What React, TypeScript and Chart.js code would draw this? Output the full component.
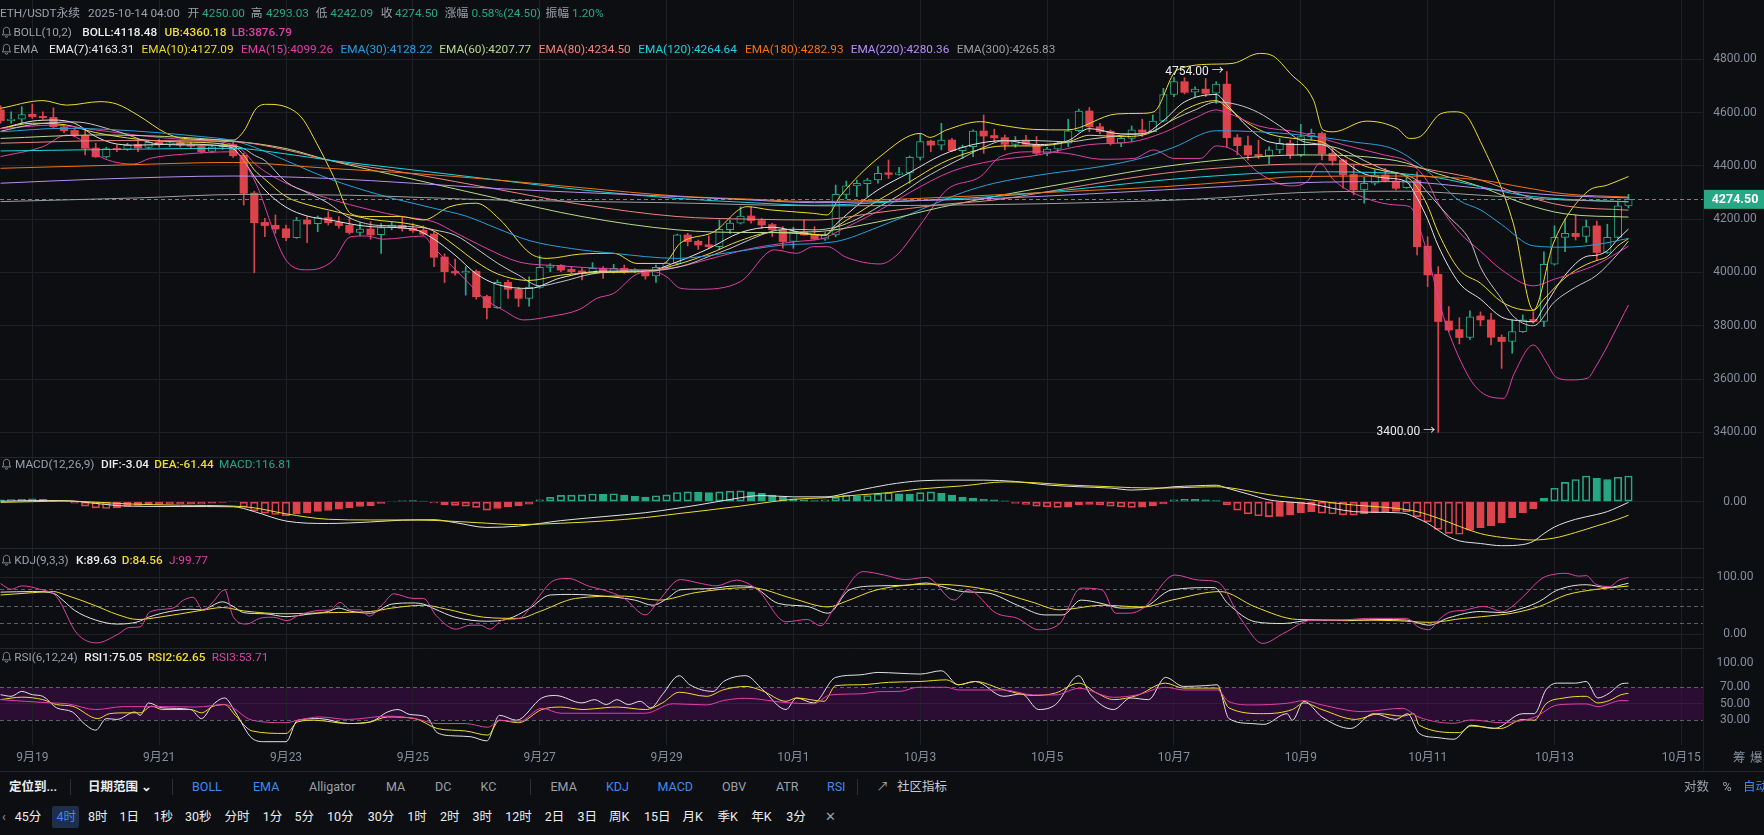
import React, { useEffect, useRef } from "react";
import { Chart, registerables } from "chart.js";

Chart.register(...registerables);

// ---------------- DATA ----------------
const FIRST_INDEX = -3; // candle index of first candle (0 = 2025-09-19 00:00, 4h candles)

const OPEN = [
  4610,4570,4575,4594,4586,4582,4546,4533,4514,4467,
  4434,4466,4462,4480,4469,4489,4480,4487,4479,4473,
  4454,4471,4480,4440,4298,4188,4177,4164,4131,4197,
  4183,4206,4188,4177,4150,4163,4142,4170,4177,4166,
  4158,4144,4058,4004,3998,4004,3910,3868,3963,3937,
  3903,3944,4019,4027,4012,4006,3999,4016,4002,4016,
  4004,4009,3987,4019,4034,4141,4117,4104,4097,4161,
  4185,4212,4195,4180,4160,4117,4153,4141,4125,4141,
  4293,4325,4333,4347,4374,4368,4374,4432,4493,4478,
  4497,4457,4472,4531,4514,4506,4481,4497,4480,4447,
  4463,4485,4532,4606,4547,4530,4485,4503,4535,4528,
  4568,4668,4716,4677,4688,4673,4707,4506,4476,4443,
  4438,4460,4485,4441,4510,4522,4447,4422,4368,4310,
  4335,4366,4343,4318,4345,4099,3993,3818,3786,3756,
  3837,3822,3757,3741,3778,3824,3816,4031,4132,4147,
  4135,4175,4075,4132,4250,
];
const HIGH = [
  4625,4603,4622,4632,4603,4618,4552,4540,4540,4485,
  4470,4478,4485,4493,4495,4500,4492,4495,4488,4480,
  4476,4485,4493,4448,4305,4203,4216,4178,4207,4210,
  4212,4228,4210,4210,4187,4191,4184,4190,4206,4184,
  4175,4153,4070,4050,4022,4010,3915,3972,3972,3944,
  3984,4063,4033,4030,4022,4016,4037,4022,4031,4028,
  4015,4012,4028,4040,4144,4147,4122,4138,4197,4197,
  4247,4247,4203,4185,4172,4170,4197,4172,4150,4328,
  4343,4347,4353,4397,4422,4395,4437,4522,4497,4560,
  4503,4478,4535,4591,4538,4516,4510,4515,4510,4470,
  4492,4575,4613,4619,4560,4535,4510,4550,4575,4591,
  4691,4731,4731,4697,4728,4716,4754,4518,4512,4497,
  4472,4503,4497,4556,4538,4528,4466,4426,4403,4357,
  4385,4391,4372,4357,4378,4134,4022,3872,3830,3856,
  3852,3847,3766,3822,3841,3853,4078,4175,4200,4216,
  4197,4193,4181,4268,4293.03,
];
const LOW = [
  4560,4560,4560,4578,4575,4541,4525,4510,4441,4432,
  4430,4453,4458,4453,4465,4470,4472,4470,4465,4448,
  4450,4462,4432,4253,3999,4134,4147,4119,4128,4112,
  4153,4178,4166,4144,4138,4125,4072,4160,4155,4150,
  4140,4022,3962,3990,3915,3900,3826,3865,3903,3872,
  3874,3941,4003,4003,3995,3972,3995,3978,3998,3997,
  3998,3975,3963,4012,4028,4100,4087,4090,4087,4147,
  4182,4185,4166,4135,4091,4091,4140,4122,4120,4134,
  4276,4285,4285,4335,4353,4365,4335,4422,4453,4460,
  4453,4428,4435,4447,4491,4460,4470,4478,4441,4438,
  4452,4472,4528,4528,4520,4478,4472,4491,4510,4528,
  4566,4660,4670,4660,4660,4635,4472,4441,4422,4428,
  4407,4447,4428,4435,4497,4422,4403,4316,4291,4260,
  4328,4340,4310,4316,4066,3947,3400,3778,3732,3749,
  3800,3728,3640,3697,3775,3809,3797,4028,4078,4122,
  4113,4047,4072,4128,4242.09,
];
const CLOSE = [
  4570,4575,4593,4585,4581,4547,4532,4516,4466,4434,
  4465,4462,4477,4468,4488,4480,4487,4478,4474,4453,
  4472,4479,4438,4297,4187,4176,4163,4131,4197,4182,
  4206,4187,4176,4150,4163,4141,4169,4178,4166,4157,
  4144,4057,4003,3998,4005,3909,3868,3963,3937,3903,
  3944,4019,4026,4009,4003,3998,4016,3999,4016,4003,
  4009,3987,4019,4034,4141,4116,4103,4097,4162,4185,
  4212,4195,4178,4160,4116,4153,4141,4125,4141,4293,
  4325,4335,4347,4372,4368,4374,4432,4491,4478,4497,
  4457,4472,4531,4512,4505,4481,4497,4481,4447,4463,
  4485,4532,4606,4547,4528,4485,4503,4535,4526,4568,
  4668,4716,4676,4688,4672,4707,4506,4476,4441,4437,
  4460,4485,4441,4510,4522,4445,4420,4366,4310,4335,
  4366,4345,4316,4341,4097,3991,3816,3784,3756,3834,
  3822,3757,3741,3778,3822,3816,4031,4132,4147,4135,
  4172,4075,4132,4250,4274.5,
];

// indicator lines: [candle index, value]
const EMA7 = [[-3,4540],[0,4568],[2,4572],[4,4560],[6,4510],[8,4482],[10,4478],[14,4482],[18,4474],[19,4465],[20,4420],[21,4360],[22,4310],[24,4245],[26,4212],[28,4198],[32,4172],[36,4163],[38,4125],[40,4065],[42,3995],[44,3955],[47,3940],[50,3980],[54,4005],[58,4005],[61,4040],[64,4090],[67,4150],[70,4170],[73,4148],[75,4140],[76,4180],[78,4250],[80,4310],[83,4375],[86,4440],[89,4480],[92,4495],[95,4480],[98,4495],[100,4540],[103,4520],[105,4520],[107,4570],[109,4640],[112,4668],[113,4630],[115,4545],[117,4490],[120,4480],[122,4480],[124,4420],[126,4370],[128,4355],[130,4340],[131,4280],[132,4200],[133,4100],[135,3960],[137,3900],[139,3833],[141,3818],[142,3815],[143,3870],[145,3990],[147,4060],[148,4065],[149,4082],[150,4125],[151,4163]];
const EMA10 = [[-3,4540],[0,4560],[3,4555],[6,4525],[10,4500],[14,4490],[19,4475],[20,4440],[21,4385],[22,4350],[24,4285],[26,4255],[28,4235],[32,4200],[36,4180],[38,4155],[40,4100],[42,4040],[44,3995],[47,3970],[50,3990],[54,4000],[58,4003],[61,4030],[64,4070],[67,4120],[70,4150],[73,4145],[75,4140],[76,4170],[78,4220],[80,4270],[83,4340],[86,4410],[89,4455],[92,4475],[95,4475],[98,4490],[100,4515],[103,4510],[105,4515],[107,4550],[109,4610],[112,4645],[113,4620],[115,4560],[117,4520],[120,4500],[122,4490],[124,4440],[126,4400],[128,4380],[130,4360],[131,4320],[132,4250],[133,4150],[135,4010],[137,3960],[139,3890],[141,3860],[142,3858],[143,3900],[145,3980],[147,4030],[148,4045],[149,4060],[150,4100],[151,4127]];
const EMA15 = [[-3,4540],[2,4553],[6,4535],[10,4515],[14,4500],[19,4480],[20,4455],[21,4410],[24,4335],[28,4278],[32,4235],[35,4210],[38,4190],[40,4150],[43,4090],[46,4040],[50,4025],[54,4015],[58,4010],[61,4020],[64,4050],[68,4090],[72,4115],[75,4130],[76,4150],[80,4230],[83,4300],[87,4380],[91,4420],[95,4440],[100,4480],[104,4490],[107,4525],[110,4580],[112,4610],[113,4600],[116,4550],[120,4525],[124,4480],[128,4440],[130,4420],[131,4390],[132,4340],[133,4260],[135,4150],[137,4080],[139,4010],[142,3950],[144,3975],[146,4000],[148,4030],[150,4075],[151,4099]];
const EMA30 = [[-3,4528],[3,4541],[8,4535],[16,4510],[19,4495],[21,4470],[24,4420],[28,4353],[33,4290],[38,4241],[41,4212],[44,4165],[47,4120],[51,4090],[55,4072],[61,4053],[66,4075],[71,4103],[76,4116],[80,4170],[84,4235],[88,4300],[91,4335],[96,4370],[101,4397],[105,4430],[108,4470],[112,4532],[116,4528],[120,4516],[125,4490],[129,4460],[132,4380],[135,4270],[137,4235],[139,4180],[142,4100],[145,4095],[148,4105],[151,4128]];
const EMA60 = [[-3,4503],[6,4516],[19,4493],[24,4465],[28,4422],[36,4350],[44,4278],[52,4210],[61,4160],[68,4150],[74,4153],[80,4190],[86,4245],[91,4285],[100,4350],[107,4397],[114,4428],[120,4441],[129,4420],[133,4370],[137,4322],[141,4260],[145,4220],[151,4208]];
const EMA80 = [[-3,4485],[8,4495],[19,4491],[24,4460],[28,4422],[36,4370],[44,4312],[52,4255],[61,4210],[68,4200],[74,4197],[80,4225],[86,4255],[91,4272],[100,4330],[107,4372],[114,4397],[120,4407],[129,4403],[133,4380],[137,4347],[141,4290],[145,4250],[151,4234]];
const EMA120 = [[-3,4456],[8,4462],[19,4466],[24,4445],[28,4422],[36,4385],[44,4347],[52,4310],[61,4278],[68,4262],[74,4252],[80,4262],[86,4275],[91,4285],[100,4318],[107,4347],[114,4368],[120,4378],[129,4372],[133,4355],[137,4322],[141,4290],[145,4275],[151,4265]];
const EMA180 = [[-3,4391],[8,4403],[19,4413],[28,4391],[36,4372],[44,4347],[52,4318],[61,4287],[68,4275],[74,4266],[82,4275],[91,4291],[100,4308],[107,4322],[114,4342],[120,4360],[129,4362],[137,4347],[141,4320],[145,4295],[151,4283]];
const EMA220 = [[-3,4335],[6,4350],[19,4362],[28,4353],[36,4335],[44,4315],[52,4300],[61,4285],[68,4272],[74,4262],[82,4268],[91,4278],[100,4295],[107,4310],[114,4325],[120,4337],[129,4341],[137,4316],[141,4300],[145,4288],[151,4280]];
const EMA300 = [[-3,4266],[10,4280],[20,4293],[30,4290],[44,4272],[60,4262],[75,4250],[91,4255],[100,4262],[110,4275],[120,4300],[130,4305],[137,4290],[145,4272],[151,4266]];

const BOLL_MID = [[-3,4530],[0,4555],[4,4565],[8,4530],[12,4482],[16,4478],[19,4475],[20,4465],[21,4440],[22,4420],[24,4340],[26,4300],[28,4260],[30,4205],[32,4180],[34,4175],[37,4168],[38,4160],[40,4140],[42,4090],[44,4035],[46,3990],[48,3950],[50,3965],[53,3995],[56,4005],[58,4005],[60,4012],[62,4030],[64,4060],[66,4090],[68,4125],[70,4155],[72,4162],[74,4160],[76,4170],[78,4200],[80,4245],[82,4290],[84,4345],[86,4390],[88,4430],[90,4470],[92,4495],[95,4495],[98,4490],[100,4500],[103,4515],[106,4530],[108,4575],[110,4610],[112,4640],[114,4630],[116,4600],[118,4550],[120,4495],[122,4480],[124,4460],[126,4420],[128,4385],[130,4365],[131,4345],[132,4300],[134,4210],[136,4120],[137,4020],[139,3900],[140,3840],[142,3800],[144,3890],[146,3945],[148,3990],[150,4070],[151,4118]];
const BOLL_UB = [[-3,4616],[1,4645],[3.25,4628],[6.4,4641],[8,4632],[10,4590],[12.7,4522],[14.3,4503],[19,4497],[20,4530],[21.2,4616],[22.2,4631],[24.1,4620],[25.5,4580],[26.9,4485],[28.5,4360],[30.1,4222],[31.6,4210],[34.8,4210],[37,4197],[39.5,4247],[42,4260],[44.2,4200],[47.1,4072],[48.7,4053],[51.8,4069],[55,4072],[57.2,4034],[59.7,4034],[61.3,4110],[64.5,4153],[67.6,4247],[69.8,4235],[73.9,4222],[75.2,4216],[76.4,4285],[80.2,4435],[84,4522],[84.9,4507],[86.5,4535],[89.7,4566],[91.6,4553],[94.7,4537],[97.9,4535],[102.6,4595],[104.8,4597],[106.1,4603],[108.3,4760],[112,4782],[113.6,4785],[116.1,4822],[117.4,4812],[119,4747],[121.2,4647],[122.1,4535],[123.1,4528],[126.2,4568],[129.1,4541],[130.3,4503],[131.3,4510],[133.2,4595],[134.5,4603],[135.4,4597],[137,4491],[140.1,4185],[142,3859],[143.9,4110],[147.1,4303],[149,4328],[151,4360]];
const BOLL_LB = [[-3,4435],[1,4472],[3.25,4516],[4.2,4507],[6.4,4435],[9.6,4407],[11.1,4428],[14.3,4444],[19,4453],[21,4347],[24.1,4041],[26,4010],[27.2,4016],[28.5,4047],[30.1,4134],[31.6,4137],[33.2,4125],[37,4137],[37.9,4097],[41,3972],[42.7,3903],[44.5,3860],[46.5,3822],[49,3835],[51.8,3862],[53.4,3903],[55,3922],[57.2,3994],[58.8,4003],[60,3984],[61.3,3941],[62.9,3937],[67,3966],[70.2,4085],[72.3,4072],[73.9,4097],[75.2,4097],[77,4057],[80.2,4032],[81.8,4066],[84,4178],[86.5,4310],[89.7,4360],[91.6,4435],[94.7,4453],[97.9,4447],[101.1,4425],[104.2,4428],[106.1,4460],[108,4428],[110.5,4428],[112,4475],[113.6,4460],[116.1,4372],[119,4325],[120.6,4341],[121.8,4410],[123.1,4347],[126.2,4278],[129.1,4253],[130.3,4247],[131.6,4122],[133.5,3834],[135.7,3622],[137,3553],[139.2,3528],[140.2,3622],[142,3728],[143.3,3659],[144.1,3609],[145.5,3597],[147.1,3603],[148,3653],[151,3878]];

// MACD histogram, one per candle from FIRST_INDEX
const MACD_HIST = [
  8,10,12,13,11,6,2,-7,-20,-28,
  -31,-28,-22,-17,-14,-12,-11,-10,-9,-10,
  -7,-3,2,-25,-42,-52,-58,-63,-56,-50,
  -44,-40,-34,-28,-22,-18,-8,3,5,5,
  3,-6,-14,-17,-20,-26,-38,-31,-24,-19,
  -11,8,20,29,30,31,35,34,36,30,
  24,21,27,31,42,45,44,41,45,48,
  49,45,38,30,20,13,8,5,8,20,
  30,27,28,35,41,36,35,41,45,38,
  30,21,16,12,8,4,-8,-12,-20,-23,
  -26,-25,-15,-12,-15,-20,-23,-26,-25,-19,
  -10,8,11,11,8,5,-15,-38,-55,-64,
  -68,-67,-60,-50,-45,-52,-56,-60,-61,-55,
  -50,-45,-44,-45,-68,-91,-126,-144,-148,-129,
  -118,-109,-95,-73,-50,-33,15,61,88,101,
  117,106,101,111,117,
];
const MACD_DIF = [[-3,2],[0,5],[3,5],[6,-8],[9,-20],[14,-22],[19,-23],[21,-45],[24,-88],[28,-99],[32,-92],[35,-84],[38,-82],[40,-95],[43,-117],[46,-111],[50,-86],[54,-68],[58,-50],[61,-30],[63,-15],[66,10],[69,28],[72,22],[75,22],[78,50],[81,78],[84,95],[87,98],[90,98],[93,92],[96,76],[99,68],[102,62],[104,53],[106,58],[108,68],[110,72],[112,75],[113,62],[115,35],[117,8],[119,-2],[121,-10],[123,-30],[125,-45],[127,-48],[129,-50],[130,-55],[131,-75],[132,-98],[133,-130],[134,-160],[135,-178],[137,-190],[139,-200],[141,-195],[142,-180],[143,-145],[144,-115],[146,-80],[148,-58],[149,-45],[150,-25],[151,-3.04]];
const MACD_DEA = [[-3,-3],[0,0],[3,3],[6,-2],[9,-10],[14,-16],[19,-20],[21,-28],[24,-55],[28,-80],[32,-83],[35,-83],[38,-85],[42,-95],[46,-104],[50,-98],[54,-88],[58,-72],[61,-55],[64,-38],[67,-20],[70,0],[72,11],[75,18],[78,30],[81,41],[84,58],[88,72],[92,90],[95,86],[98,76],[101,70],[104,64],[107,62],[110,66],[112,68],[114,58],[116,40],[118,25],[121,8],[123,-5],[125,-15],[127,-22],[129,-30],[131,-45],[133,-75],[135,-112],[137,-145],[139,-162],[141,-172],[142,-174],[144,-165],[146,-140],[148,-110],[150,-80],[151,-61.44]];

const KDJ_K = [[-3,74],[0,75],[2,72],[3,58],[4,42],[6,25],[8,18],[10,22],[11,30],[13,40],[15,44],[16,43],[18,57],[19,49],[20,38],[22,36],[24,31],[26,35],[28,40],[29,46],[30,41],[32,37],[34,53],[36,55],[37,53],[38,45],[40,30],[43,23],[45,27],[47,45],[49,69],[51,70],[54,67],[57,60],[58.7,51],[60,62],[61.3,78],[64,80],[66.6,85],[68,84],[70.6,54],[73.3,49],[75.3,37],[77.3,78],[80,85],[82.6,86],[84.6,90],[86,84],[88,75],[90.5,72],[93.2,51],[95.8,34],[97.5,34],[99.2,60],[101.2,54],[103,46],[105,47],[107.8,78],[111.8,82],[113.1,54],[115.7,22],[118.4,19],[121,25],[124.4,24],[127.5,26],[130,25],[132.1,16],[134,29],[137,40],[139,38],[141,46],[142.6,58],[144.2,77],[147,87],[149,82],[151,89.63]];
const KDJ_D = [[-3,69],[0,73],[2,75],[3,70],[6,50],[8,35],[10,26],[12,30],[16,42],[18,47],[20,41],[24,36],[28,38],[32,40],[34,46],[37,51],[39,45],[42.7,30],[46,28],[48,40],[51.4,63],[56,67],[59.3,60],[62.7,73],[67.9,82],[71.9,63],[75.3,48],[77,58],[79.9,78],[85.2,88],[90.5,78],[94.5,57],[97.2,43],[101.2,51],[105.1,48],[107.8,60],[112.4,75],[115.7,48],[119.7,26],[124.4,25],[129,24],[132.2,21],[135.4,28],[138.8,34],[140,37],[142.6,49],[145.1,69],[148,79],[151,84.56]];
const KDJ_J = [[-3,89],[-2,79],[-1,85],[0.7,79],[2.3,66],[4.2,2],[6.1,-15],[8,-1],[9.2,12],[10.2,13],[11.1,39],[13.3,46],[14.3,60],[15.2,65],[16.2,42],[17.1,57],[18.2,78],[19,31],[20.3,18],[21.5,28],[22.8,30],[24.1,24],[25.3,34],[27.2,42],[28.2,43],[29.1,56],[30.1,43],[31,43],[31.9,32],[33.2,54],[34.2,71],[36,63],[37,63],[38.2,33],[40.1,9],[41.4,16],[42.4,16],[43.3,9],[44.5,25],[46.1,28],[47.4,54],[49.4,95],[50.7,98],[52.7,84],[54,78],[56,63],[58,34],[59.3,60],[61.3,96],[63.3,89],[64.7,85],[66.6,95],[68.6,78],[71.3,22],[73.3,26],[74.6,15],[75.9,48],[78.6,110],[80.6,104],[82.6,96],[84.6,100],[87.2,60],[88.5,78],[91.2,37],[93.2,28],[95.2,8],[97.2,19],[99.2,81],[101.2,78],[102.5,37],[103.8,37],[105.1,46],[108.1,104],[110.4,95],[112.1,92],[114.4,25],[116.4,-16],[118.4,2],[121.1,25],[123.7,25],[126.4,28],[128.8,28],[130,28],[131.1,13],[132.1,8],[133.2,28],[134.1,39],[135.4,42],[137.3,49],[139.1,40],[140,49],[141.2,69],[142.8,98],[144.2,106],[145.1,107],[146.3,102],[147,103],[147.9,88],[149.2,84],[150.1,95],[151,99.77]];

const RSI1 = [[-3,61],[-2,59],[-1,65],[0,61],[1,59],[2.3,45],[3.8,40],[4.9,26],[6,18],[7,32],[8,31],[9.7,40],[10.2,36],[11,51],[12.3,45],[15,43],[16,32],[17.1,49],[18.2,57],[19.2,40],[20.8,8],[22,4],[24,4],[25.1,30],[27.2,32],[29.9,26],[32,28],[33.6,40],[34.6,43],[35.7,37],[37.3,34],[38.3,15],[40,11],[41.5,10],[43,5],[44.2,36],[45.8,30],[48.2,57],[49.5,60],[52,51],[53.2,55],[54.3,49],[55.3,55],[56.4,49],[57.5,53],[58.5,45],[59.6,61],[61.2,84],[62.2,73],[64.4,65],[65.4,77],[67.5,84],[69.1,67],[71.3,43],[72.3,57],[73.9,51],[76,82],[78.3,85],[80,88],[82,87],[84,86],[86,90],[87.6,73],[89.2,77],[91.9,59],[93.6,62],[95.2,43],[96.8,49],[99,84],[100.1,61],[102.3,43],[103.9,57],[105.6,55],[107.2,82],[108.9,71],[111,72],[112.1,73],[113.2,32],[115.4,26],[116.5,25],[118.7,38],[119.2,30],[120.3,53],[122,34],[124.7,20],[126.9,38],[129,31],[130.1,38],[131.2,14],[132.9,9],[134.5,7],[136.1,24],[138.3,20],[141,38],[142.1,38],[143.2,67],[144.3,75],[146,75],[147,77],[148.1,57],[149.2,63],[150.3,74],[151,75.05]];
const RSI2 = [[-3,55],[-1,58],[1,55],[2.3,49],[3.8,47],[6.2,32],[7.3,38],[9,39],[10.2,39],[11.3,47],[12.3,43],[15,43],[16,39],[17.1,47],[18.2,49],[19.2,36],[20.8,17],[24,14],[25.1,28],[26.7,30],[29.9,26],[32,28],[33.6,34],[36.2,32],[38.3,20],[41,17],[43.1,12],[44.2,30],[46,27],[48.2,43],[50,46],[52.1,43],[53.2,44],[55.3,46],[58,43],[59.6,51],[61.2,64],[63.8,59],[65.4,67],[67.5,71],[69,66],[71.3,53],[72.3,57],[74.9,53],[76,72],[78.3,73],[81,76],[84,77],[86.5,79],[87.6,73],[89.2,77],[91.9,67],[94.7,60],[96.8,63],[99,75],[100.7,63],[102.3,55],[104.5,60],[107.2,75],[108.9,69],[112.1,69],[113.2,45],[116.5,38],[119.2,43],[120.3,51],[122,43],[125.2,31],[127.4,38],[129.6,35],[130.7,38],[131.2,24],[135,15],[136.1,23],[138.9,20],[141,31],[142.1,30],[143.2,50],[144.9,57],[147,59],[148.1,51],[149.2,54],[150.3,61],[151,62.65]];
const RSI3 = [[-3,55],[1.7,51],[3.3,50],[6,43],[8.6,46.5],[12.9,46.5],[15.5,46],[18.2,49],[20.8,30],[24,27],[25.1,30],[27.2,34],[29.9,31],[33.6,35],[36.2,32],[38.3,26],[41,26],[43.1,21.5],[44.2,30],[46,28],[48.2,44.5],[50,38.5],[55.3,38.5],[58,38.5],[60.6,50],[63.8,48.6],[65.4,54],[67.5,56.6],[71.3,51.4],[73.9,50],[75.5,60.7],[78.3,62],[80.2,64.7],[82.1,65],[83.8,70],[86.5,70],[87.6,66.7],[91.9,66.7],[94.7,60.7],[96.8,60.7],[99,68.8],[102.3,57.8],[104.5,60.7],[107.2,70],[108.9,66.7],[112.1,66.7],[113.2,52.6],[115.4,48.6],[118.7,50.6],[120.3,53.8],[122,48.6],[125.8,40.5],[129.6,44.5],[131.2,33.6],[134.5,26.3],[136.1,30.4],[138.9,27.1],[142.1,33.6],[144.3,48.6],[147,49.8],[148.1,46.5],[150.3,53.8],[151,53.71]];

const DATE_TICKS = [0, 12, 24, 36, 48, 60, 72, 84, 96, 108, 120, 132, 144, 156];
const DATE_LABELS = ["9月19","9月21","9月23","9月25","9月27","9月29","10月1","10月3","10月5","10月7","10月9","10月11","10月13","10月15"];
const PRICE_TICKS = [3400, 3600, 3800, 4000, 4200, 4400, 4600, 4800];
const LAST_PRICE = 4274.5;
const HIGH_MARK = [113, 4754];
const LOW_MARK = [133, 3400];

// ---------------- STYLE ----------------
const BG = "#0d0e11";
const GRID = "#1e2025";
const AXIS_TEXT = "#848e9c";
const GREEN = "#27a884";
const RED = "#dd434b";
const WHITE = "#e2e2e2";
const YELLOW = "#eedc2e";
const MAGENTA = "#de40a8";
const C_EMA = {
  e7: "#e4e4e4", e10: YELLOW, e15: MAGENTA, e30: "#2b9fd9", e60: "#b8d98d",
  e80: "#e9877d", e120: "#1ed3dd", e180: "#f07515", e220: "#b690f0", e300: "#9e9e9e",
};
const BOLL_MID_C = "#c4c4c4";
const BAND = "#2b0c32";
const DASH = "#5c6068";
const FONT_FAMILY = 'Roboto, "Noto Sans CJK SC", sans-serif';
const CANVAS_FONT = '12px Roboto, "Noto Sans CJK SC", sans-serif';
const X_MIN = -3.056;
const X_MAX = 158.05;
const AXIS_W = 61;
const LABEL_X = 1735;

const pts = (arr: number[][]) => arr.map(([x, y]) => ({ x, y }));

function line(data: number[][], color: string, width = 1) {
  return {
    type: "line",
    data: pts(data),
    borderColor: color,
    borderWidth: width,
    pointRadius: 0,
    cubicInterpolationMode: "monotone",
    order: 0,
  };
}

function scales(yMin: number, yMax: number, yTicks: number[], yGridColor = GRID) {
  return {
    x: {
      type: "linear",
      min: X_MIN,
      max: X_MAX,
      offset: false,
      grid: { color: GRID, drawTicks: false, offset: false },
      border: { display: false },
      ticks: { display: false },
      afterBuildTicks: (s: any) => { s.ticks = DATE_TICKS.map((v) => ({ value: v })); },
      afterFit: (s: any) => { s.height = 0; s.paddingLeft = 0; s.paddingRight = 0; },
    },
    y: {
      type: "linear",
      position: "right",
      min: yMin,
      max: yMax,
      grid: { color: yGridColor, drawTicks: false },
      border: { display: false },
      ticks: { display: false },
      afterBuildTicks: (s: any) => { s.ticks = yTicks.map((v) => ({ value: v })); },
      afterFit: (s: any) => { s.width = AXIS_W; s.paddingTop = 0; s.paddingBottom = 0; },
    },
  };
}

type Decor = {
  labels?: [number, string][];
  dashed?: number[];
  band?: [number, number];
  topLine?: boolean;
  dates?: boolean;
  price?: boolean;
};

function decor(o: Decor) {
  return {
    id: "decor",
    beforeDraw(chart: any) {
      if (!o.band) return;
      const { ctx, chartArea: a } = chart;
      const y = chart.scales.y;
      const top = y.getPixelForValue(o.band[1]);
      const bot = y.getPixelForValue(o.band[0]);
      ctx.save();
      ctx.fillStyle = BAND;
      ctx.fillRect(a.left, top, a.right - a.left, bot - top);
      ctx.restore();
    },
    beforeDatasetsDraw(chart: any) {
      const { ctx, chartArea: a } = chart;
      const y = chart.scales.y;
      ctx.save();
      ctx.lineWidth = 1;
      if (o.topLine) {
        ctx.strokeStyle = "#24262c";
        ctx.beginPath();
        ctx.moveTo(0, a.top + 0.5);
        ctx.lineTo(a.right, a.top + 0.5);
        ctx.stroke();
      }
      ctx.setLineDash([4, 3]);
      ctx.strokeStyle = DASH;
      (o.dashed || []).forEach((v) => {
        const py = Math.round(y.getPixelForValue(v)) + 0.5;
        ctx.beginPath();
        ctx.moveTo(a.left, py);
        ctx.lineTo(a.right, py);
        ctx.stroke();
      });
      if (o.price) {
        const py = Math.round(y.getPixelForValue(LAST_PRICE)) + 0.5;
        ctx.strokeStyle = GREEN;
        ctx.beginPath();
        ctx.moveTo(a.left, py);
        ctx.lineTo(a.right, py);
        ctx.stroke();
      }
      ctx.restore();
    },
    afterDraw(chart: any) {
      const { ctx, chartArea: a } = chart;
      const y = chart.scales.y;
      const x = chart.scales.x;
      ctx.save();
      ctx.font = CANVAS_FONT;
      ctx.fillStyle = AXIS_TEXT;
      ctx.textAlign = "center";
      ctx.textBaseline = "middle";
      (o.labels || []).forEach(([v, t]) => {
        ctx.fillText(t, LABEL_X, y.getPixelForValue(v));
      });
      if (o.dates) {
        DATE_TICKS.forEach((v, k) => {
          ctx.fillText(DATE_LABELS[k], x.getPixelForValue(v), a.bottom + 13);
        });
      }
      if (o.price) {
        const py = y.getPixelForValue(LAST_PRICE);
        ctx.fillStyle = GREEN;
        ctx.fillRect(a.right, py - 9.5, AXIS_W, 19);
        ctx.fillStyle = "#ffffff";
        ctx.font = 'bold 12.5px Roboto, sans-serif';
        ctx.fillText(LAST_PRICE.toFixed(2), LABEL_X, py + 0.5);
        ctx.font = CANVAS_FONT;
        ctx.fillStyle = "#eaecef";
        ctx.textAlign = "right";
        [HIGH_MARK, LOW_MARK].forEach(([i, v]) => {
          const px = x.getPixelForValue(i);
          const vy = y.getPixelForValue(v);
          ctx.fillText(v.toFixed(2) + " \u2192", px - 3, vy);
        });
      }
      ctx.restore();
    },
  };
}

const baseOptions = (sc: any, bottomPad = 0) => ({
  animation: false,
  responsive: false,
  events: [],
  layout: { padding: { left: 0, right: 0, top: 0, bottom: bottomPad }, autoPadding: false },
  plugins: { legend: { display: false }, tooltip: { enabled: false } },
  scales: sc,
});

function priceConfig() {
  const idx = OPEN.map((_, k) => FIRST_INDEX + k);
  const up = (k: number) => CLOSE[k] >= OPEN[k];
  return {
    type: "bar",
    data: {
      datasets: [
        {
          type: "bar",
          data: idx.map((i, k) => ({ x: i, y: [LOW[k], HIGH[k]] })),
          backgroundColor: idx.map((_, k) => (up(k) ? GREEN : RED)),
          borderWidth: 0,
          barThickness: 1,
          grouped: false,
          order: 3,
        },
        {
          type: "bar",
          data: idx.map((i, k) => ({ x: i, y: [OPEN[k], CLOSE[k]] })),
          backgroundColor: idx.map((_, k) => (up(k) ? BG : RED)),
          borderColor: idx.map((_, k) => (up(k) ? GREEN : RED)),
          borderWidth: idx.map((_, k) => (up(k) ? 1 : 0)),
          borderSkipped: false,
          barThickness: 7.5,
          minBarLength: 1,
          grouped: false,
          order: 2,
        },
        line(EMA300, C_EMA.e300),
        line(EMA220, C_EMA.e220),
        line(EMA180, C_EMA.e180),
        line(EMA120, C_EMA.e120),
        line(EMA80, C_EMA.e80),
        line(EMA60, C_EMA.e60),
        line(EMA30, C_EMA.e30),
        line(BOLL_LB, MAGENTA),
        line(BOLL_UB, YELLOW),
        line(BOLL_MID, BOLL_MID_C),
        line(EMA15, C_EMA.e15),
        line(EMA10, C_EMA.e10),
        line(EMA7, C_EMA.e7),
      ],
    },
    options: baseOptions(scales(3307.7, 5022.5, PRICE_TICKS)),
    plugins: [decor({ labels: PRICE_TICKS.map((v) => [v, v.toFixed(2)] as [number, string]), price: true })],
  };
}

function macdConfig() {
  const idx = MACD_HIST.map((_, k) => FIRST_INDEX + k);
  const hollow = MACD_HIST.map((v, k) => {
    if (k === 0) return false;
    const p = MACD_HIST[k - 1];
    return Math.sign(v) !== Math.sign(p) || Math.abs(v) > Math.abs(p);
  });
  const col = MACD_HIST.map((v) => (v >= 0 ? GREEN : RED));
  return {
    type: "bar",
    data: {
      datasets: [
        {
          type: "bar",
          data: idx.map((i, k) => ({ x: i, y: MACD_HIST[k] })),
          backgroundColor: col.map((c, k) => (hollow[k] ? "rgba(0,0,0,0)" : c)),
          borderColor: col,
          borderWidth: 1,
          borderSkipped: false,
          barThickness: 7.5,
          grouped: false,
          order: 2,
        },
        line(MACD_DEA, YELLOW),
        line(MACD_DIF, WHITE),
      ],
    },
    options: baseOptions(scales(-210.5, 203.2, [0])),
    plugins: [decor({ labels: [[0, "0.00"]], topLine: true })],
  };
}

function kdjConfig() {
  return {
    type: "line",
    data: { datasets: [line(KDJ_J, MAGENTA), line(KDJ_D, YELLOW), line(KDJ_K, WHITE)] },
    options: baseOptions(scales(-24.0, 151.4, [0, 100])),
    plugins: [decor({ labels: [[100, "100.00"], [0, "0.00"]], dashed: [20, 50, 80], topLine: true })],
  };
}

function rsiConfig() {
  return {
    type: "line",
    data: { datasets: [line(RSI3, MAGENTA), line(RSI2, YELLOW), line(RSI1, WHITE)] },
    options: baseOptions(scales(0, 117.6, [50], "#3a1a42"), 24),
    plugins: [
      decor({
        labels: [[100, "100.00"], [70, "70.00"], [50, "50.00"], [30, "30.00"]],
        dashed: [30, 70],
        band: [30, 70],
        topLine: true,
        dates: true,
      }),
    ],
  };
}

// ---------------- TEXT OVERLAYS ----------------
const Bell = () => (
  <svg width="11" height="12" viewBox="0 0 11 12" style={{ position: "absolute", left: 1, top: 1 }}>
    <path d="M5.5 1.3c-1.8 0-3.1 1.4-3.1 3.2v2.7L1.2 8.9h8.6L8.6 7.2V4.5c0-1.8-1.3-3.2-3.1-3.2z M4.3 10.1a1.2 1.2 0 0 0 2.4 0" fill="none" stroke="#848e9c" strokeWidth="1" />
  </svg>
);

function Txt(props: { x: number; y: number; c: string; w?: number; s?: number; children: any }) {
  return (
    <div
      style={{
        position: "absolute",
        left: props.x,
        top: props.y - 7,
        lineHeight: "14px",
        fontSize: props.s || 12.5,
        fontFamily: FONT_FAMILY,
        color: props.c,
        fontWeight: props.w || 400,
        whiteSpace: "nowrap",
      }}
    >
      {props.children}
    </div>
  );
}

function Row(props: { y: number; s?: number; items: [number, string, string, number?][] }) {
  return (
    <>
      {props.items.map(([x, t, c, w], k) => (
        <Txt key={k} x={x} y={props.y} c={c} w={w} s={props.s}>{t}</Txt>
      ))}
    </>
  );
}

function BellAt(props: { y: number }) {
  return (
    <div style={{ position: "absolute", left: 0, top: props.y - 7, width: 13, height: 14 }}>
      <Bell />
    </div>
  );
}

const G = "#9aa1ab";
const BLUE = "#3d8bf2";
const TB_WHITE = "#eaecef";
const HS = 11.8; // header font size

export default function App() {
  const priceRef = useRef<HTMLCanvasElement>(null);
  const macdRef = useRef<HTMLCanvasElement>(null);
  const kdjRef = useRef<HTMLCanvasElement>(null);
  const rsiRef = useRef<HTMLCanvasElement>(null);

  useEffect(() => {
    const charts: any[] = [];
    charts.push(new Chart(priceRef.current as any, priceConfig() as any));
    charts.push(new Chart(macdRef.current as any, macdConfig() as any));
    charts.push(new Chart(kdjRef.current as any, kdjConfig() as any));
    charts.push(new Chart(rsiRef.current as any, rsiConfig() as any));
    return () => charts.forEach((c) => c.destroy());
  }, []);

  const cv = (top: number): any => ({ position: "absolute", left: 0, top, display: "block" });

  return (
    <div style={{ position: "relative", width: 1764, height: 835, background: BG, overflow: "hidden" }}>
      <style>{`body{margin:0;background:${BG};}`}</style>
      <canvas ref={priceRef} width={1764} height={457} style={cv(0)} />
      <canvas ref={macdRef} width={1764} height={91} style={cv(457)} />
      <canvas ref={kdjRef} width={1764} height={100} style={cv(548)} />
      <canvas ref={rsiRef} width={1764} height={121} style={cv(648)} />
      <div style={{ position: "absolute", left: 1703, top: 0, width: 1, height: 770, background: "#1e2025" }} />

      {/* header line 1 */}
      <Row
        y={13.3}
        s={HS}
        items={[
          [0, "ETH/USDT永续", G], [88, "2025-10-14 04:00", G],
          [187.5, "开", G], [202, "4250.00", GREEN],
          [250.7, "高", G], [266, "4293.03", GREEN],
          [315.7, "低", G], [330.3, "4242.09", GREEN],
          [380.8, "收", G], [395, "4274.50", GREEN],
          [444.7, "涨幅", G], [471.5, "0.58%(24.50)", GREEN],
          [545.4, "振幅", G], [572, "1.20%", GREEN],
        ]}
      />
      {/* BOLL line */}
      <BellAt y={31.7} />
      <Row
        y={31.7}
        s={HS}
        items={[
          [13.4, "BOLL(10,2)", G], [82.3, "BOLL:4118.48", TB_WHITE, 500],
          [164.6, "UB:4360.18", YELLOW, 500], [231.5, "LB:3876.79", MAGENTA, 500],
        ]}
      />
      {/* EMA line */}
      <BellAt y={48.5} />
      <Row
        y={48.5}
        s={HS}
        items={[
          [13.4, "EMA", G],
          [49, "EMA(7):4163.31", TB_WHITE],
          [141.6, "EMA(10):4127.09", YELLOW],
          [241.1, "EMA(15):4099.26", MAGENTA],
          [340.6, "EMA(30):4128.22", C_EMA.e30],
          [439.3, "EMA(60):4207.77", C_EMA.e60],
          [538.8, "EMA(80):4234.50", C_EMA.e80],
          [638.3, "EMA(120):4264.64", C_EMA.e120],
          [745, "EMA(180):4282.93", C_EMA.e180],
          [850.7, "EMA(220):4280.36", C_EMA.e220],
          [956.7, "EMA(300):4265.83", C_EMA.e300],
        ]}
      />
      {/* MACD label */}
      <BellAt y={464.3} />
      <Row
        y={464.3}
        s={HS}
        items={[
          [15, "MACD(12,26,9)", G], [101, "DIF:-3.04", TB_WHITE, 500],
          [154.3, "DEA:-61.44", YELLOW, 500], [219, "MACD:116.81", GREEN],
        ]}
      />
      {/* KDJ label */}
      <BellAt y={560} />
      <Row
        y={560}
        s={HS}
        items={[
          [14.3, "KDJ(9,3,3)", G], [76, "K:89.63", TB_WHITE, 500],
          [121.7, "D:84.56", YELLOW, 500], [169, "J:99.77", MAGENTA],
        ]}
      />
      {/* RSI label */}
      <BellAt y={656.7} />
      <Row
        y={656.7}
        s={HS}
        items={[
          [14.3, "RSI(6,12,24)", G], [84.3, "RSI1:75.05", TB_WHITE, 500],
          [147.7, "RSI2:62.65", YELLOW, 500], [211.7, "RSI3:53.71", MAGENTA],
        ]}
      />
      <Row y={758} items={[[1733, "筹", AXIS_TEXT], [1750, "爆", AXIS_TEXT]]} />

      {/* toolbar */}
      <div style={{ position: "absolute", left: 0, top: 771, width: 1764, height: 1, background: "#23262c" }} />
      {[70, 171.5, 530, 857].map((x, k) => (
        <div key={k} style={{ position: "absolute", left: x, top: 779, width: 1, height: 16, background: "#2b2f36" }} />
      ))}
      <Row
        y={787}
        items={[
          [9, "定位到...", TB_WHITE, 600], [88, "日期范围 \u2304", TB_WHITE, 600],
          [192, "BOLL", BLUE], [253, "EMA", BLUE], [309, "Alligator", G], [386, "MA", G],
          [435, "DC", G], [480.5, "KC", G],
          [550.5, "EMA", G], [606, "KDJ", BLUE], [657.6, "MACD", BLUE], [722, "OBV", G],
          [776, "ATR", G], [827, "RSI", BLUE],
          [876.5, "\u2197", G], [897, "社区指标", "#c9ccd1"],
          [1684, "对数", G], [1722.5, "%", G], [1743, "自动", BLUE],
        ]}
      />
      <div style={{ position: "absolute", left: 52, top: 806, width: 27, height: 22, background: "#1d2f4a", borderRadius: 2 }} />
      <Row
        y={817}
        items={[
          [2, "\u2039", G], [14.7, "45分", TB_WHITE], [56.4, "4时", BLUE], [88, "8时", TB_WHITE],
          [119.6, "1日", TB_WHITE], [153.4, "1秒", TB_WHITE], [185, "30秒", TB_WHITE],
          [224.5, "分时", TB_WHITE], [262.8, "1分", TB_WHITE], [294.4, "5分", TB_WHITE],
          [327, "10分", TB_WHITE], [367.7, "30分", TB_WHITE], [407.2, "1时", TB_WHITE],
          [440, "2时", TB_WHITE], [472.6, "3时", TB_WHITE], [505.3, "12时", TB_WHITE],
          [544.8, "2日", TB_WHITE], [577.5, "3日", TB_WHITE], [609, "周K", TB_WHITE],
          [644, "15日", TB_WHITE], [682.4, "月K", TB_WHITE], [717.4, "季K", TB_WHITE],
          [751.2, "年K", TB_WHITE], [786.2, "3分", TB_WHITE], [824.5, "\u2715", G],
        ]}
      />
    </div>
  );
}
